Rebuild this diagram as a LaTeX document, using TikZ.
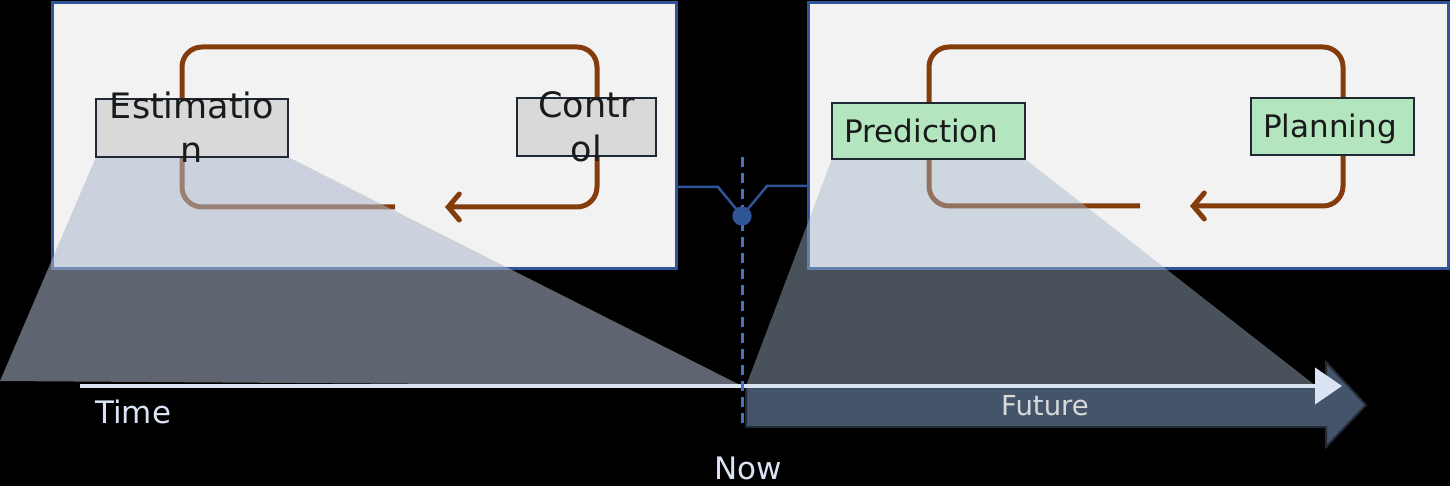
\documentclass[tikz,border=0pt]{standalone}
\usepackage{fontspec}
\setmainfont{DejaVu Sans}
\usetikzlibrary{arrows.meta}

\definecolor{panelfill}{HTML}{F2F2F2}
\definecolor{panelline}{HTML}{2F5597}
\definecolor{nowblue}{HTML}{4472C4}
\definecolor{loopbrown}{HTML}{843C0C}
\definecolor{boxgrey}{HTML}{D9D9D9}
\definecolor{boxgreen}{HTML}{B3E6BF}
\definecolor{boxline}{HTML}{1E2933}
\definecolor{fanfill}{HTML}{ADB9CC}
\definecolor{fanfilldark}{HTML}{A4B4C8}
\definecolor{axislight}{HTML}{DAE3F3}
\definecolor{futurefill}{HTML}{44546A}
\definecolor{futureline}{HTML}{222A35}
\definecolor{darktext}{HTML}{1A1A1A}

\tikzset{
  panel/.style={draw=panelline, line width=3pt, fill=panelfill, inner sep=0pt,
                anchor=north west},
  cycleloop/.style={draw=loopbrown, line width=5pt, rounded corners=20pt,
                    -{Straight Barb[length=11pt, width=26pt, line cap=round]}},
  stagebox/.style={draw=boxline, line width=2.5pt, inner sep=0pt},
  greybox/.style={stagebox, fill=boxgrey},
  greenbox/.style={stagebox, fill=boxgreen},
  bigword/.style={text=darktext, inner sep=0pt, align=center,
                  font=\fontsize{35}{44}\selectfont},
  word/.style={text=darktext, inner sep=0pt, font=\fontsize{31}{37}\selectfont},
  fan/.style={fill=fanfill, fill opacity=0.55},
  fandark/.style={fill=fanfilldark, fill opacity=0.45},
  link/.style={draw=panelline, line width=2.5pt},
  nowline/.style={draw=nowblue, line width=3pt, dash pattern=on 10pt off 6pt},
  timeaxis/.style={draw=axislight, line width=4pt,
                   -{Triangle[length=27pt, width=36pt]}},
  lightword/.style={text=axislight, inner sep=0pt, font=\fontsize{31}{37}\selectfont},
}

\begin{document}
\begin{tikzpicture}[x=1pt, y=-1pt]
  % canvas
  \fill[black] (0,0) rectangle (1450,486);
  \useasboundingbox (0,0) rectangle (1450,486);

  % the two stage panels
  \node[panel, minimum width=624pt, minimum height=266pt] (past) at (51,1) {};
  \node[panel, minimum width=640pt, minimum height=266pt] (fut) at (807,1) {};

  % feedback loops inside the panels
  \coordinate (la) at (395,207);
  \coordinate (lb) at (182,207);
  \coordinate (lc) at (182,47);
  \coordinate (ld) at (597,47);
  \coordinate (le) at (597,207);
  \coordinate (lf) at (445,207);
  \draw[cycleloop] (la) -- (lb) -- (lc) -- (ld) -- (le) -- (lf);

  \coordinate (ra) at (1140,206);
  \coordinate (rb) at (929,206);
  \coordinate (rc) at (929,47);
  \coordinate (rd) at (1343,47);
  \coordinate (re) at (1343,206);
  \coordinate (rf) at (1190,206);
  \draw[cycleloop] (ra) -- (rb) -- (rc) -- (rd) -- (re) -- (rf);

  % link from both panels to the present instant
  \coordinate (pastport) at (675,187);
  \coordinate (pastbend) at (718,187);
  \coordinate (futbend) at (767,186);
  \coordinate (futport) at (807,186);
  \node[circle, fill=panelline, minimum size=19pt, inner sep=0pt] (nowdot) at (742,216) {};
  \draw[link] (pastport) -- (pastbend) -- (nowdot.center) -- (futbend) -- (futport);

  % anchor points of the projection fans
  \coordinate (now) at (742,386);
  \coordinate (leftfoot) at (0,381);
  \coordinate (fanend) at (1316,386);
  \coordinate (futstart) at (746,386);
  \coordinate (estsw) at (96,157);
  \coordinate (estse) at (288,157);
  \coordinate (predsw) at (832,159);
  \coordinate (predse) at (1025,159);

  % projection fans
  \fill[fan] (estsw) -- (estse) -- (now) -- (leftfoot) -- cycle;
  \fill[fandark] (predsw) -- (predse) -- (fanend) -- (futstart) -- cycle;

  % boxes
  \node[greybox, minimum width=192pt, minimum height=58pt] (est) at (192,128) {};
  \node[greybox, minimum width=139pt, minimum height=58pt] (ctrl) at (586.5,127) {};
  \node[greenbox, minimum width=193pt, minimum height=56pt] (pred) at (928.5,131) {};
  \node[greenbox, minimum width=163pt, minimum height=57pt] (plan) at (1332.5,126.5) {};

  \node[bigword, anchor=north] (estlabel) at (192,92) {Estimatio\\n};
  \node[bigword, anchor=north] (ctrllabel) at (586.5,91) {Contr\\ol};
  \node[word, anchor=base] (predlabel) at (921.5,143) {Prediction};
  \node[word, anchor=base] (planlabel) at (1330,138) {Planning};

  % the future block arrow
  \draw[fill=futurefill, draw=futureline, line width=2pt]
    (746,387) -- (1326,387) -- (1326,362) -- (1366,405) -- (1326,447)
    -- (1326,427) -- (746,427) -- cycle;
  \node[text=boxgrey, inner sep=0pt, anchor=base,
        font=\fontsize{27.5}{33}\selectfont] (futurelabel) at (1045,415) {Future};

  % time axis
  \coordinate (axisstart) at (80,386);
  \coordinate (axisend) at (1342,386);
  \draw[timeaxis] (axisstart) -- (axisend);
  \node[lightword, anchor=base west] (timelabel) at (95,423) {Time};

  % the present instant
  \coordinate (nowtop) at (742,157);
  \coordinate (nowbottom) at (742,428);
  \draw[nowline] (nowtop) -- (nowbottom);
  \fill[panelline] (nowdot) circle (9.5pt);
  \node[lightword, anchor=base] (nowlabel) at (748,479) {Now};
\end{tikzpicture}
\end{document}
